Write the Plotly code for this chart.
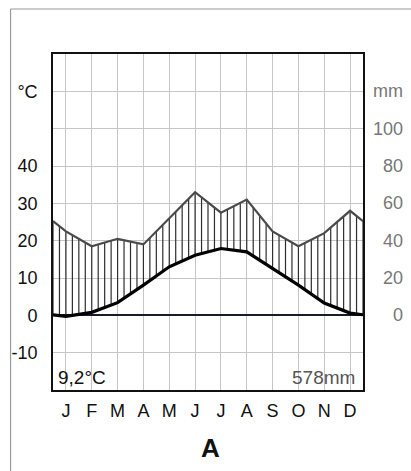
import numpy as np
import plotly.graph_objects as go

months = ["J", "F", "M", "A", "M", "J", "J", "A", "S", "O", "N", "D"]
temperature = [-0.3, 0.8, 3.4, 8.1, 13.0, 16.1, 17.9, 17.0, 12.6, 8.1, 3.3, 0.6]
precipitation = [45, 37, 41, 38, 52, 66, 55, 62, 45, 37, 44, 56]
temp_ticks = [-10, 0, 10, 20, 30, 40, 50, 60]
temp_ticktext = ["-10", "0", "10", "20", "30", "40", "", "°C"]
prec_ticks = [0, 20, 40, 60, 80, 100, 120]
prec_ticktext = ["0", "20", "40", "60", "80", "100", "mm"]
mean_temp_label = "9,2°C"
total_prec_label = "578mm"
panel_label = "A"

FONT = "Liberation Sans Narrow, Liberation Sans, Arial, sans-serif"

W, H = 411, 471
ml, mr, mt, mb = 49, 48, 54, 81
plot_w = W - ml - mr
plot_h = H - mt - mb


def px_x(p):
    return (p - ml) / plot_w


def px_y(p):
    return (H - mb - p) / plot_h


mx = np.arange(1, 13)
# wrap-around edges (half a month beyond Jan and Dec)
x_ext = np.concatenate([[0.5], mx, [12.5]])
t_edge = (temperature[0] + temperature[-1]) / 2
p_edge = (precipitation[0] + precipitation[-1]) / 2
t_ext = np.concatenate([[t_edge], temperature, [t_edge]])
p_ext = np.concatenate([[p_edge], precipitation, [p_edge]])

# hatching between curves (precipitation scale is 2 mm per 1 °C)
hx, hy = [], []
for xv in np.arange(0.5, 12.5 + 1e-9, 0.25):
    tv = np.interp(xv, x_ext, t_ext)
    pv = np.interp(xv, x_ext, p_ext) / 2
    hx += [xv, xv, None]
    hy += [tv, pv, None]

fig = go.Figure()
fig.add_trace(go.Scatter(x=hx, y=hy, mode="lines",
                         line=dict(color="#2e2e2e", width=1.2),
                         hoverinfo="skip", showlegend=False))
fig.add_trace(go.Scatter(x=x_ext, y=p_ext, yaxis="y2", mode="lines",
                         line=dict(color="#4a4a4a", width=2.2),
                         showlegend=False))
fig.add_trace(go.Scatter(x=x_ext, y=t_ext, mode="lines",
                         line=dict(color="#000000", width=3.2),
                         showlegend=False))

fig.update_layout(
    width=W, height=H,
    margin=dict(l=ml, r=mr, t=mt, b=mb, pad=0),
    paper_bgcolor="white", plot_bgcolor="white",
    font=dict(family=FONT, size=18, color="#111111"),
    xaxis=dict(range=[0.5, 12.5], tickvals=list(mx), ticktext=months,
               showgrid=True, gridcolor="#c6c6c6", gridwidth=0.8,
               showline=True, linecolor="#111111", linewidth=1.6, mirror=True,
               ticks="", ticklabelstandoff=4, zeroline=False,
               tickfont=dict(size=18, color="#111111")),
    yaxis=dict(range=[-20, 70], tickvals=temp_ticks, ticktext=temp_ticktext,
               showgrid=True, gridcolor="#c6c6c6", gridwidth=0.8,
               showline=True, linecolor="#111111", linewidth=1.6, mirror=True,
               zeroline=True, zerolinecolor="#1a1a2e", zerolinewidth=1.5,
               ticks="", ticklabelstandoff=10,
               tickfont=dict(size=18, color="#111111")),
    yaxis2=dict(range=[-40, 140], overlaying="y", side="right",
                showgrid=False, zeroline=False, showticklabels=False,
                ticks=""),
)

for v, txt in zip(prec_ticks, prec_ticktext):
    fig.add_annotation(x=px_x(406), xref="paper", y=v, yref="y2", text=txt,
                       showarrow=False, xanchor="right", yanchor="middle",
                       font=dict(size=18, color="#777777", family=FONT))

fig.add_annotation(x=px_x(52), xref="paper", y=-16.7, yref="y",
                   text=mean_temp_label, showarrow=False, xanchor="left",
                   yanchor="middle", font=dict(size=19, color="#111111", family=FONT))
fig.add_annotation(x=px_x(357), xref="paper", y=-16.7, yref="y",
                   text=total_prec_label, showarrow=False, xanchor="right",
                   yanchor="middle", font=dict(size=19, color="#555555", family=FONT))
fig.add_annotation(x=px_x(209), xref="paper", y=px_y(448), yref="paper",
                   text="<b>" + panel_label + "</b>", showarrow=False,
                   xanchor="center", yanchor="middle",
                   font=dict(size=26, color="#111111", family=FONT))

# outer panel frame
fig.add_shape(type="line", xref="paper", yref="paper",
              x0=px_x(6), x1=px_x(W + 5), y0=px_y(9), y1=px_y(9),
              line=dict(color="#9a9a9a", width=1.2))
fig.add_shape(type="line", xref="paper", yref="paper",
              x0=px_x(6), x1=px_x(6), y0=px_y(9), y1=px_y(H + 5),
              line=dict(color="#9a9a9a", width=1.2))

fig.write_html("out.html", config={"displayModeBar": False},
               post_script="document.body.style.margin='0';document.body.style.overflow='hidden';")
